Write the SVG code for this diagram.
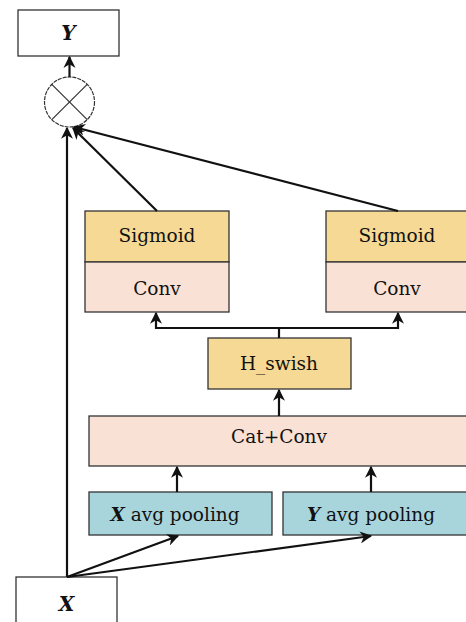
<svg xmlns="http://www.w3.org/2000/svg" width="466" height="622" viewBox="0 0 466 622">
<style>
.b{stroke:#333;stroke-width:1.3}
.w{fill:#fff}
.yel{fill:#f6d994}
.pink{fill:#f9e1d6}
.blue{fill:#a8d4dc}
text{font-family:"DejaVu Serif","Liberation Serif",serif;font-size:18.5px;fill:#111;text-anchor:middle}
.it{font-style:italic;font-weight:bold}
.big{font-size:20px}
.c{fill:none;stroke:#111;stroke-width:2.2}
</style>
<defs>
<marker id="a" viewBox="0 0 10 10" refX="9" refY="5" markerWidth="5.5" markerHeight="5.5" orient="auto" markerUnits="strokeWidth">
<path d="M0,0 L10,5 L0,10 L3,5 z" fill="#111"/>
</marker>
</defs>
<rect width="466" height="622" fill="#fff"/>
<g id="Y"><rect class="b w" x="18" y="10" width="101" height="46"/><text class="it big" x="68.5" y="40">Y</text></g>
<g id="mul">
<circle cx="69.5" cy="102" r="25" fill="#fff" stroke="#333" stroke-width="1.2" stroke-dasharray="4 1"/>
<line x1="51.8" y1="84.3" x2="87.2" y2="119.7" stroke="#333" stroke-width="1.2"/>
<line x1="87.2" y1="84.3" x2="51.8" y2="119.7" stroke="#333" stroke-width="1.2"/>
</g>
<g id="sig1"><rect class="b yel" x="85" y="211" width="144" height="51"/><text x="157" y="242">Sigmoid</text></g>
<g id="conv1"><rect class="b pink" x="85" y="262" width="144" height="50"/><text x="157" y="295">Conv</text></g>
<g id="sig2"><rect class="b yel" x="326" y="211" width="150" height="51"/><text x="397" y="242">Sigmoid</text></g>
<g id="conv2"><rect class="b pink" x="326" y="262" width="150" height="50"/><text x="397" y="295">Conv</text></g>
<g id="hswish"><rect class="b yel" x="208" y="338" width="143" height="51"/><text x="279" y="370">H_swish</text></g>
<g id="catconv"><rect class="b pink" x="89" y="416" width="390" height="50"/><text x="279" y="443">Cat+Conv</text></g>
<g id="xpool"><rect class="b blue" x="89" y="492" width="183" height="43"/><text x="175" y="521"><tspan class="it">X</tspan> avg pooling</text></g>
<g id="ypool"><rect class="b blue" x="283" y="492" width="190" height="43"/><text x="371" y="521"><tspan class="it">Y</tspan> avg pooling</text></g>
<g id="X"><rect class="b w" x="16" y="577" width="101" height="50"/><text class="it big" x="66.5" y="611">X</text></g>
<g id="connectors">
<line class="c" x1="69.5" y1="77" x2="69.5" y2="57" marker-end="url(#a)"/>
<line class="c" x1="67" y1="577" x2="67" y2="128" marker-end="url(#a)"/>
<line class="c" x1="157" y1="211" x2="73" y2="128" marker-end="url(#a)"/>
<line class="c" x1="398" y1="211" x2="74" y2="127" marker-end="url(#a)"/>
<polyline class="c" points="279,338 279,328"/>
<polyline class="c" points="156,328 398,328"/>
<line class="c" x1="156" y1="329" x2="156" y2="313" marker-end="url(#a)"/>
<line class="c" x1="398" y1="329" x2="398" y2="313" marker-end="url(#a)"/>
<line class="c" x1="279" y1="416" x2="279" y2="390" marker-end="url(#a)"/>
<line class="c" x1="177" y1="492" x2="177" y2="467" marker-end="url(#a)"/>
<line class="c" x1="371" y1="492" x2="371" y2="467" marker-end="url(#a)"/>
<line class="c" x1="67" y1="577" x2="178" y2="536" marker-end="url(#a)"/>
<line class="c" x1="67" y1="577" x2="371" y2="536" marker-end="url(#a)"/>
</g>
</svg>
